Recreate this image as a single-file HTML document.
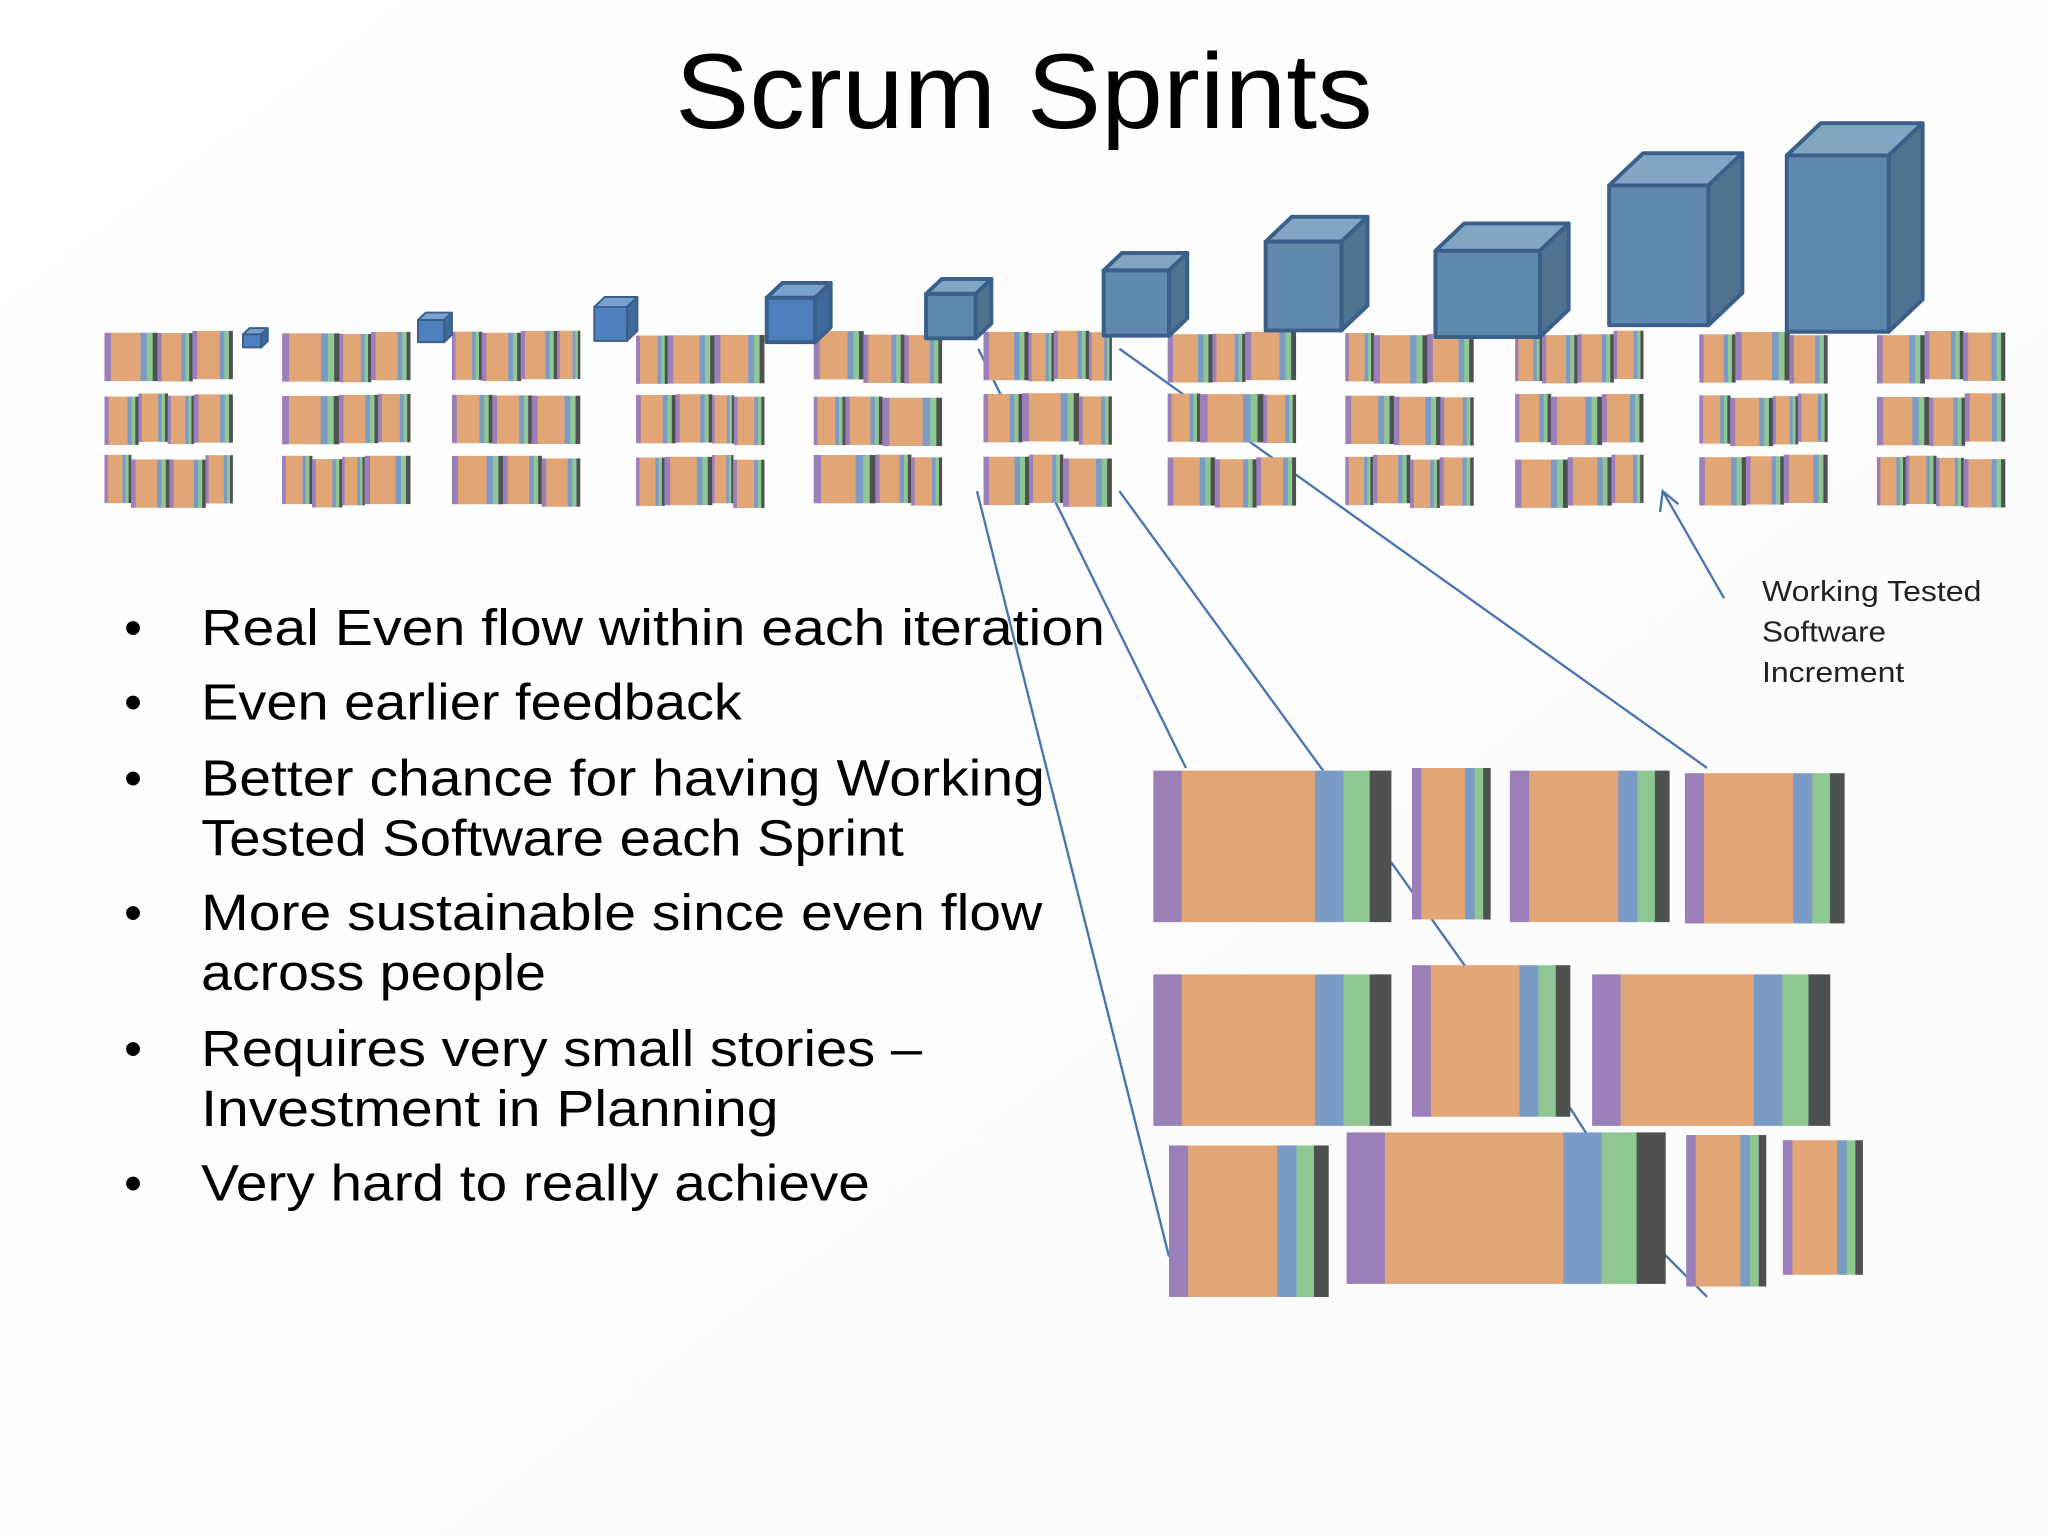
<!DOCTYPE html>
<html><head><meta charset="utf-8"><style>
html,body{margin:0;padding:0;background:#fff;}
svg{display:block;}
</style></head><body>
<svg id="s" width="2048" height="1536" viewBox="0 0 1568 1176" xmlns="http://www.w3.org/2000/svg">
<defs><linearGradient id="bg" x1="0" y1="0" x2="1" y2="1"><stop offset="0" stop-color="#ffffff"/><stop offset="1" stop-color="#fbfbfb"/></linearGradient></defs>
<rect width="1568" height="1176" fill="url(#bg)"/>
<text x="784" y="98" text-anchor="middle" font-family="Liberation Sans, sans-serif" font-size="82" fill="#000" textLength="534" lengthAdjust="spacingAndGlyphs">Scrum Sprints</text>
<g id="lines" stroke="#4a74b0" stroke-width="1.8" fill="none">
<line x1="748" y1="376" x2="895" y2="962"/>
<line x1="804" y1="376" x2="908" y2="588"/>
<line x1="857" y1="376" x2="1013" y2="590"/>
<line x1="857" y1="267" x2="1307" y2="588"/>
<line x1="749" y1="267" x2="768" y2="306"/>
<line x1="1065" y1="660" x2="1122" y2="740"/>
<line x1="1200" y1="845" x2="1216" y2="870"/>
<line x1="1272" y1="958" x2="1307" y2="993"/>
<line x1="1320" y1="458" x2="1273" y2="376"/>
<polyline points="1271,392 1273,376 1285,386"/>
</g>
<g id="minis"></g>
<g id="cubes"></g>
<g id="big"></g>
<g font-family="Liberation Sans, sans-serif" font-size="39" fill="#000">
<text x="95" y="494">•</text><text x="154" y="494" textLength="692" lengthAdjust="spacingAndGlyphs">Real Even flow within each iteration</text>
<text x="95" y="551">•</text><text x="154" y="551" textLength="414" lengthAdjust="spacingAndGlyphs">Even earlier feedback</text>
<text x="95" y="609">•</text><text x="154" y="609" textLength="646" lengthAdjust="spacingAndGlyphs">Better chance for having Working</text>
<text x="154" y="655" textLength="538" lengthAdjust="spacingAndGlyphs">Tested Software each Sprint</text>
<text x="95" y="712">•</text><text x="154" y="712" textLength="644" lengthAdjust="spacingAndGlyphs">More sustainable since even flow</text>
<text x="154" y="758" textLength="264" lengthAdjust="spacingAndGlyphs">across people</text>
<text x="95" y="816">•</text><text x="154" y="816" textLength="552" lengthAdjust="spacingAndGlyphs">Requires very small stories –</text>
<text x="154" y="862" textLength="442" lengthAdjust="spacingAndGlyphs">Investment in Planning</text>
<text x="95" y="919">•</text><text x="154" y="919" textLength="512" lengthAdjust="spacingAndGlyphs">Very hard to really achieve</text>
</g>
<g font-family="Liberation Sans, sans-serif" font-size="22" fill="#222">
<text x="1349" y="460" textLength="168" lengthAdjust="spacingAndGlyphs">Working  Tested</text>
<text x="1349" y="491" textLength="95" lengthAdjust="spacingAndGlyphs">Software</text>
<text x="1349" y="522" textLength="109" lengthAdjust="spacingAndGlyphs">Increment</text>
</g>
</svg>
<script>
var NS="http://www.w3.org/2000/svg";
function el(p,t,a){var e=document.createElementNS(NS,t);for(var k in a)e.setAttribute(k,a[k]);p.appendChild(e);return e;}
var C=["#9a7fb9","#e2a676","#7a9bc6","#8fc792","#4d5251"];
var P=[0.12,0.56,0.12,0.11,0.09];
function story(g,x,y,w,h){var cx=x;for(var i=0;i<5;i++){var sw=w*P[i];el(g,"rect",{x:cx,y:y,width:sw+0.3,height:h,fill:C[i]});cx+=sw;}}
var seed=7;function rnd(){seed=(seed*9301+49297)%233280;return seed/233280;}
var minis=document.getElementById("minis");
var cols=[80,216,346,487,623,753,894,1030,1160,1301,1437];
var rows=[255,303,350];
cols.forEach(function(cx){rows.forEach(function(ry){
 var total=98,x=cx,n=3+Math.floor(rnd()*2),ws=[],s=0;
 for(var i=0;i<n;i++){var v=0.6+rnd()*0.8;ws.push(v);s+=v;}
 for(var i=0;i<n;i++){var w=ws[i]/s*total;var dy=(rnd()-0.5)*4;story(minis,x,ry+dy,w,37);x+=w;}
});});
var cubes=document.getElementById("cubes");
var cb=[[186,256,14,10,5],[320,245,20,17,6],[455,235,25,26,8],[587,228,37,34,12],[709,225,38,34,12],[845,207,50,50,14],[969,185,58,68,20],[1099,192,80,66,22],[1232,142,76,107,26],[1368,119,78,135,26]];
cb.forEach(function(c,i){var x=c[0],y=c[1],w=c[2],h=c[3],d=c[4],dy=d*0.95;
 var f=i<4?"#4d80bd":"#5f89ad",t=i<4?"#7aa2d0":"#80a6c3",sd=i<4?"#3f6a9e":"#4f7290";
 var a={stroke:"#3a5f8a","stroke-width":i<3?1.5:3,"stroke-linejoin":"round"};
 function pg(pts,fill){var o={points:pts,fill:fill};for(var k in a)o[k]=a[k];el(cubes,"polygon",o);}
 pg([x,y,x+d,y-dy,x+w+d,y-dy,x+w,y].join(" "),t);
 pg([x+w,y,x+w+d,y-dy,x+w+d,y+h-dy,x+w,y+h].join(" "),sd);
 pg([x,y,x+w,y,x+w,y+h,x,y+h].join(" "),f);
});
var big=document.getElementById("big");
[[883,590,182,116],[1081,588,60,116],[1156,590,122,116],[1290,592,122,115],
 [883,746,182,116],[1081,739,121,116],[1219,746,182,116],
 [895,877,122,116],[1031,867,244,116],[1291,869,61,116],[1365,873,61,103]].forEach(function(b){story(big,b[0],b[1],b[2],b[3]);});
</script>
</body></html>
